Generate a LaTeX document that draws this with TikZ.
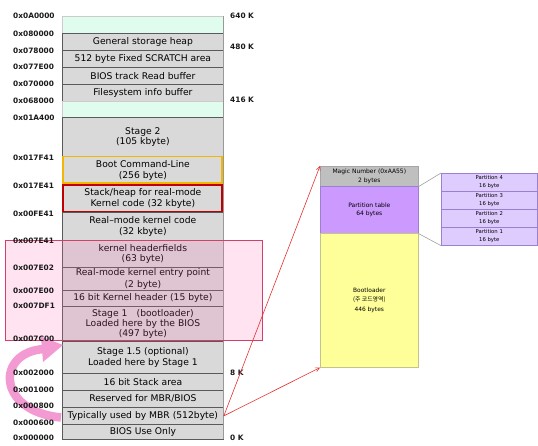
\documentclass[tikz,border=0pt]{standalone}
\usepackage{fontspec}
\setmainfont{DejaVu Sans}
\newfontfamily\cjk{Noto Sans CJK KR}
\usetikzlibrary{arrows.meta}
\definecolor{cellgray}{HTML}{D9D9D9}
\definecolor{cellline}{HTML}{5A5A5A}
\definecolor{mint}{HTML}{DFFCEF}
\definecolor{goldline}{HTML}{F2B705}
\definecolor{darkred}{HTML}{C00000}
\definecolor{overlaypink}{HTML}{FF66B2}
\definecolor{overlayline}{HTML}{D0406A}
\definecolor{arrowpink}{HTML}{F39AD2}
\definecolor{linkred}{HTML}{E53030}
\definecolor{magicgray}{HTML}{BFBFBF}
\definecolor{ptpurple}{HTML}{CC99FF}
\definecolor{partfill}{HTML}{DFCCFF}
\definecolor{partline}{HTML}{9B7FD0}
\definecolor{bootyellow}{HTML}{FFFF99}
\definecolor{bootline}{HTML}{C4C48A}
\definecolor{labelink}{HTML}{1A1A1A}
\begin{document}
\begin{tikzpicture}[x=1pt,y=-1pt,
  cell/.style={draw=cellline, line width=0.8pt, fill=cellgray, anchor=north west,
    minimum width=161pt, inner sep=0pt, align=center,
    font=\fontsize{9.2}{10.6}\selectfont},
  free/.style={cell, draw=gray!40, fill=mint},
  addr/.style={anchor=west, inner sep=0pt, text=labelink, font=\fontsize{7.4}{8}\selectfont\bfseries},
  kilo/.style={anchor=west, inner sep=0pt, text=labelink, font=\fontsize{7.4}{8}\selectfont\bfseries},
  mbrbox/.style={anchor=north west, minimum width=98pt, inner sep=0pt, align=center,
    line width=0.6pt, font=\fontsize{6}{8.5}\selectfont},
  partbox/.style={anchor=north west, minimum width=96pt, minimum height=18pt,
    inner sep=0pt, align=center, draw=partline, fill=partfill, line width=0.6pt,
    font=\fontsize{5.3}{7.6}\selectfont},
  link/.style={draw=linkred, line width=0.6pt, -{Straight Barb[length=4pt,width=4pt]}},
  zoomline/.style={draw=gray!75, line width=0.6pt}
]
\useasboundingbox (0,0) rectangle (538,445);

% memory map column, top to bottom
\node[free, minimum height=17pt] (top) at (62,16) {};
\node[cell, minimum height=17pt] (heap) at (62,33) {General storage heap};
\node[cell, minimum height=17pt] (scratch) at (62,50) {512 byte Fixed SCRATCH area};
\node[cell, minimum height=17pt] (track) at (62,67) {BIOS track Read buffer};
\node[cell, minimum height=17pt] (fsinfo) at (62,84) {Filesystem info buffer};
\node[free, minimum height=16pt] (gap) at (62,101) {};
\node[cell, minimum height=39pt] (stage2) at (62,117) {Stage 2\\(105 kbyte)};
\node[cell, minimum height=28pt] (cmdline) at (62,156) {Boot Command-Line\\(256 byte)};
\node[cell, minimum height=28pt] (stack) at (62,184) {Stack/heap for real-mode\\Kernel code (32 kbyte)};
\node[cell, minimum height=28pt] (kcode) at (62,212) {Real–mode kernel code\\(32 kbyte)};
\node[cell, minimum height=27pt] (khdr) at (62,240) {kernel headerfields\\(63 byte)};
\node[cell, minimum height=23pt, font=\fontsize{9.2}{11.5}\selectfont] (entry) at (62,267) {Real-mode kernel entry point\\(2 byte)};
\node[cell, minimum height=16pt] (hdr16) at (62,290) {16 bit Kernel header (15 byte)};
\node[cell, minimum height=35pt, font=\fontsize{9.2}{10}\selectfont] (stage1) at (62,306) {Stage 1\quad(bootloader)\\Loaded here by the BIOS\\(497 byte)};
\node[cell, minimum height=32pt] (stage15) at (62,341) {Stage 1.5 (optional)\\Loaded here by Stage 1};
\node[cell, minimum height=17pt] (stack16) at (62,373) {16 bit Stack area};
\node[cell, minimum height=17pt] (reserved) at (62,390) {Reserved for MBR/BIOS};
\node[cell, minimum height=17pt] (mbr) at (62,407) {Typically used by MBR (512byte)};
\node[cell, minimum height=15pt] (biosonly) at (62,424) {BIOS Use Only};

% right edge shade of the column
\draw[gray!80, line width=1.2pt] (223.4,16) -- (223.4,439.4);

% highlighted regions
\draw[goldline, line width=1.6pt] (62.8,156.6) rectangle (222.2,183.2);
\draw[darkred, line width=1.6pt] (62.8,185) rectangle (222.2,211.4);

% kernel / stage 1 region
\draw[overlayline, line width=0.7pt, fill=overlaypink, fill opacity=0.18] (5,240) rectangle (262.5,340);

% stage 1 copy arrow
\draw[arrowpink, line width=8.5pt] (61,417.5) .. controls (-4,411) and (-4,352) .. (44,349);
\fill[arrowpink] (63,345) -- (41,336.5) -- (43,362) -- cycle;

% addresses
\node[addr] (a00) at (13,16) {0x0A0000};
\node[addr] (a01) at (13,34) {0x080000};
\node[addr] (a02) at (13,50.5) {0x078000};
\node[addr] (a03) at (13,66.5) {0x077E00};
\node[addr] (a04) at (13,84) {0x070000};
\node[addr] (a05) at (13,101) {0x068000};
\node[addr] (a06) at (13,118) {0x01A400};
\node[addr] (a07) at (13,158) {0x017F41};
\node[addr] (a08) at (13,186) {0x017E41};
\node[addr] (a09) at (13,214) {0x00FE41};
\node[addr] (a10) at (13,241) {0x007E41};
\node[addr] (a11) at (13,268) {0x007E02};
\node[addr] (a12) at (13,291) {0x007E00};
\node[addr] (a13) at (13,305.5) {0x007DF1};
\node[addr] (a14) at (13,339) {0x007C00};
\node[addr] (a15) at (13,373) {0x002000};
\node[addr] (a16) at (13,390) {0x001000};
\node[addr] (a17) at (13,406) {0x000800};
\node[addr] (a18) at (13,423) {0x000600};
\node[addr] (a19) at (13,438) {0x000000};

% sizes
\node[kilo] (k640) at (230,16) {640 K};
\node[kilo] (k480) at (230,47) {480 K};
\node[kilo] (k416) at (230,99.5) {416 K};
\node[kilo] (k8) at (230,373) {8 K};
\node[kilo] (k0) at (230,437.5) {0 K};

% MBR layout
\node[mbrbox, draw=gray!70, fill=magicgray, minimum height=20pt] (magic) at (320,166) {Magic Number (0xAA55)\\2 bytes};
\node[mbrbox, draw=partline, fill=ptpurple, minimum height=47pt] (ptable) at (320,186) {Partition table\\64 bytes};
\node[mbrbox, draw=bootline, fill=bootyellow, minimum height=134pt, font=\fontsize{5.9}{9.2}\selectfont] (boot) at (320,233) {Bootloader\\{\cjk(주 코드영역)}\\446 bytes};

% partition entries
\node[partbox] (p4) at (441,173) {Partition 4\\16 byte};
\node[partbox] (p3) at (441,191) {Partition 3\\16 byte};
\node[partbox] (p2) at (441,209) {Partition 2\\16 byte};
\node[partbox] (p1) at (441,227) {Partition 1\\16 byte};

\draw[zoomline] (magic.south east) -- (p4.north west);
\draw[zoomline] (ptable.south east) -- (p1.south west);

% MBR sector detail links
\draw[link] (mbr.east) -- (magic.north west);
\draw[link] (mbr.east) -- (boot.south west);
\end{tikzpicture}
\end{document}
